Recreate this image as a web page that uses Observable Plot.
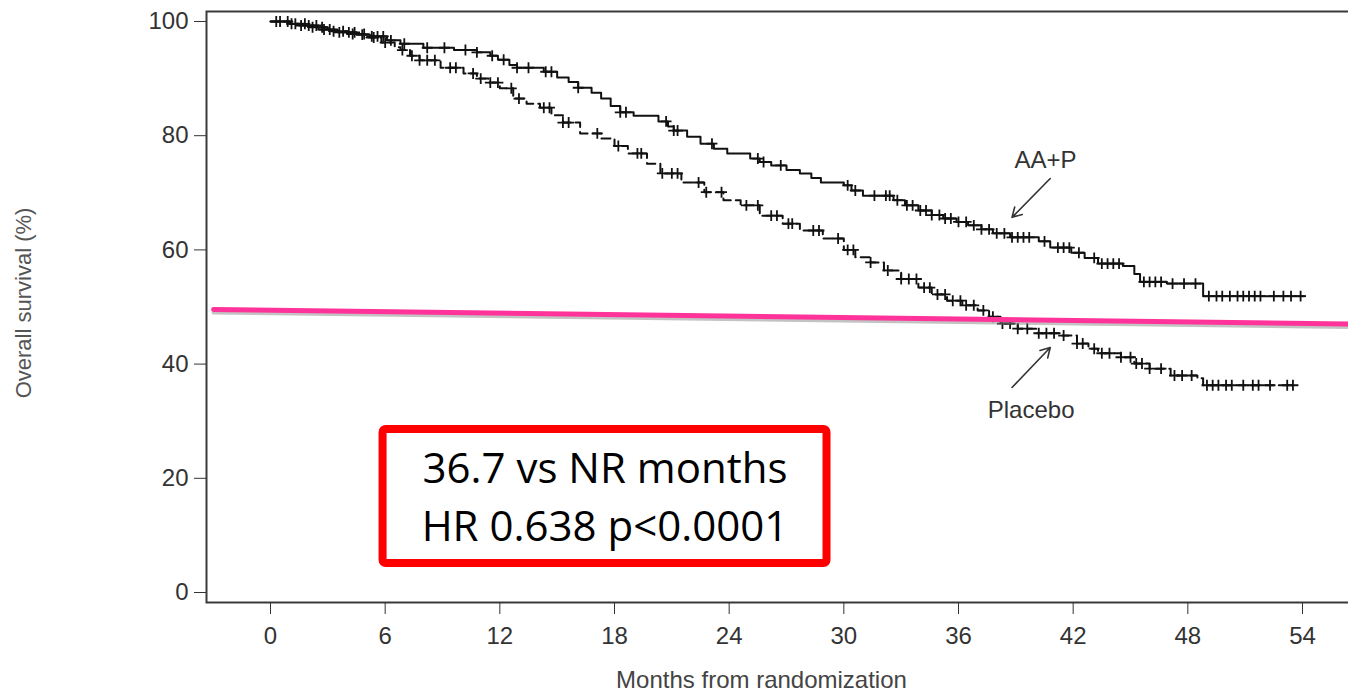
<!DOCTYPE html>
<html>
<head>
<meta charset="utf-8">
<script src="https://cdn.jsdelivr.net/npm/d3@7"></script>
<script src="https://cdn.jsdelivr.net/npm/@observablehq/plot@0.6"></script>
<style>
  html, body { margin: 0; padding: 0; background: #fff; overflow: hidden; }
  #chart svg { display: block; }
</style>
</head>
<body>
<div id="chart"></div>
<script>
// ---- tick labels ----
const xTicks = [0, 6, 12, 18, 24, 30, 36, 42, 48, 54];
const yTicks = [0, 20, 40, 60, 80, 100];
const xTitle = "Months from randomization";
const yTitle = "Overall survival (%)";

// ---- AA+P Kaplan–Meier curve (month, % alive) ----
const aaMonths = [0, 1.0, 1.5, 2.5, 3.5, 4.5, 5.2, 6.1, 6.8, 8.0, 9.6, 10.8, 11.5, 11.9, 12.5, 12.9, 14.3, 15.0, 15.6, 16.1, 16.8, 17.3, 17.8, 18.3, 19.0, 20.3, 20.8, 21.1, 21.8, 22.5, 23.2, 23.9, 25.1, 25.6, 26.2, 27.0, 27.7, 28.3, 28.8, 30.0, 30.4, 31.0, 32.6, 33.2, 33.9, 34.6, 35.2, 35.9, 36.5, 37.2, 37.8, 38.7, 40.2, 40.8, 41.9, 42.6, 43.3, 44.6, 45.2, 45.5, 46.9, 48.8, 54.1];
const aaSurvival = [100, 99.6, 99.3, 98.6, 98.1, 97.7, 97.4, 96.7, 96.1, 95.4, 95.0, 94.6, 94.0, 93.3, 92.4, 91.9, 91.2, 90.2, 89.4, 88.4, 87.5, 86.5, 85.2, 84.1, 83.5, 82.5, 81.6, 80.9, 79.8, 78.6, 77.7, 76.9, 76.0, 75.4, 74.8, 74.0, 73.4, 72.6, 71.8, 71.3, 70.4, 69.5, 68.7, 67.8, 66.9, 66.1, 65.5, 64.9, 64.3, 63.6, 62.9, 62.2, 61.5, 60.4, 59.5, 58.6, 57.6, 57.2, 55.8, 54.4, 54.1, 51.9, 51.9];
const aaCensorMonths = [0.3, 0.9, 1.3, 1.6, 2.0, 2.4, 2.8, 3.1, 3.6, 4.1, 4.4, 4.8, 5.3, 5.6, 5.9, 6.3, 7.0, 8.2, 9.1, 10.2, 10.8, 11.6, 12.2, 12.9, 13.5, 14.4, 14.7, 16.1, 18.3, 18.6, 20.7, 21.1, 21.3, 23.1, 25.5, 25.8, 26.7, 30.2, 30.6, 31.6, 32.2, 32.4, 32.8, 33.3, 33.6, 34.0, 34.3, 34.6, 35.0, 35.3, 35.6, 36.0, 36.4, 36.8, 37.2, 37.6, 38.0, 38.4, 38.8, 39.1, 39.4, 39.7, 40.5, 41.2, 41.5, 41.8, 42.3, 43.1, 43.5, 43.8, 44.1, 44.4, 45.7, 46.0, 46.3, 46.6, 47.2, 47.8, 48.4, 49.1, 49.5, 49.8, 50.2, 50.6, 50.9, 51.2, 51.5, 51.8, 52.5, 53.0, 53.4, 53.9];

// ---- Placebo Kaplan–Meier curve ----
const pbMonths = [0, 1.0, 2.0, 3.0, 4.0, 5.0, 5.8, 6.5, 6.8, 7.3, 7.8, 8.9, 10.1, 10.8, 11.4, 12.0, 12.7, 13.4, 14.1, 14.7, 15.3, 16.2, 17.3, 18.0, 18.7, 19.7, 20.4, 21.5, 22.7, 23.7, 24.6, 25.6, 26.8, 27.7, 28.9, 30.0, 30.6, 31.4, 32.1, 33.0, 33.9, 34.6, 35.4, 36.2, 37.0, 37.6, 38.2, 39.1, 40.1, 41.3, 42.2, 42.8, 43.3, 44.5, 45.2, 46.0, 47.1, 48.5, 48.8, 53.5];
const pbSurvival = [100, 99.6, 99.0, 98.3, 97.8, 97.2, 96.3, 95.5, 95.0, 94.0, 93.2, 91.9, 90.9, 90.0, 89.3, 88.3, 86.5, 85.6, 84.9, 83.6, 82.3, 80.4, 79.5, 78.2, 76.9, 75.1, 73.4, 71.8, 70.1, 68.7, 67.8, 66.0, 64.6, 63.4, 62.0, 60.0, 58.7, 57.8, 56.4, 54.9, 53.4, 52.2, 51.1, 50.3, 49.4, 48.3, 47.1, 46.2, 45.4, 45.0, 43.6, 42.7, 41.9, 41.2, 40.1, 39.2, 38.0, 37.5, 36.3, 36.3];
const pbCensorMonths = [0.5, 1.1, 1.8, 2.2, 2.7, 3.3, 3.8, 4.3, 4.9, 5.4, 6.0, 6.9, 7.4, 7.8, 8.2, 8.6, 9.4, 9.7, 10.6, 11.0, 11.5, 11.9, 12.6, 13.0, 14.3, 14.6, 15.3, 15.6, 17.1, 18.2, 19.2, 19.4, 20.5, 21.0, 21.3, 22.4, 22.8, 23.6, 24.9, 25.5, 26.2, 26.5, 27.1, 27.3, 28.4, 28.7, 29.7, 30.2, 30.5, 31.4, 32.3, 33.0, 33.4, 33.8, 34.2, 34.5, 34.9, 35.3, 35.7, 36.1, 36.4, 36.8, 37.3, 37.8, 38.3, 38.7, 39.1, 39.6, 40.2, 40.6, 41.0, 41.5, 42.2, 42.5, 43.1, 43.5, 43.9, 44.5, 45.0, 45.3, 45.6, 46.0, 46.6, 47.3, 47.7, 48.2, 49.0, 49.3, 49.6, 50.0, 50.3, 50.9, 51.4, 51.7, 52.3, 53.2, 53.5];

// ---- pink reference line (overlay) ----
const refMonths = [-2.98, 56.93];
const refSurvival = [49.56, 47.0];

// ---- arm labels with arrows ----
const armNames = ["AA+P", "Placebo"];
const armLabelMonth = [40.55, 39.8];
const armLabelSurvival = [75.7, 31.9];
const arrowFromMonth = [40.8, 38.8];
const arrowFromSurvival = [72.5, 35.9];
const arrowToMonth = [38.8, 40.8];
const arrowToSurvival = [65.7, 42.9];

// ---- result box ----
const boxMonths = [5.89, 29.12];
const boxSurvival = [5.08, 28.55];
const boxLines = ["36.7 vs NR months", "HR 0.638 p<0.0001"];
const boxLineSurvival = [19.26, 9.1];
const boxCenterMonth = 17.5;

// ---- build tables ----
const toRows = (ms, ss) => ms.map((m, i) => ({month: m, pct: ss[i]}));
const stepAt = (ms, ss, m) => { let v = ss[0]; for (let i = 0; i < ms.length; i++) { if (ms[i] <= m) v = ss[i]; else break; } return v; };
const aaRows = toRows(aaMonths, aaSurvival);
const pbRows = toRows(pbMonths, pbSurvival);
const aaCens = aaCensorMonths.map(m => ({month: m, pct: stepAt(aaMonths, aaSurvival, m)}));
const pbCens = pbCensorMonths.map(m => ({month: m, pct: stepAt(pbMonths, pbSurvival, m)}));
const refRows = toRows(refMonths, refSurvival);
const armRows = armNames.map((n, i) => ({name: n, month: armLabelMonth[i], pct: armLabelSurvival[i],
  x1: arrowFromMonth[i], y1: arrowFromSurvival[i], x2: arrowToMonth[i], y2: arrowToSurvival[i]}));
const boxRows = [{x1: boxMonths[0], x2: boxMonths[1], y1: boxSurvival[0], y2: boxSurvival[1]}];
const boxTextRows = boxLines.map((t, i) => ({t, month: boxCenterMonth, pct: boxLineSurvival[i]}));

const font = "'Liberation Sans', Arial, sans-serif";

const chart = Plot.plot({
  width: 1348,
  height: 691,
  marginLeft: 206,
  marginRight: -10,
  marginTop: 11,
  marginBottom: 89,
  style: {fontFamily: font, color: "#333", background: "#fff"},
  x: {domain: [-3.349, 56.93]},
  y: {domain: [-1.751, 101.75]},
  marks: [
    Plot.frame({stroke: "#3a3a3a", strokeWidth: 2}),
    Plot.axisX({ticks: xTicks, tickSize: 12, tickPadding: 12, fontSize: 24, label: null, stroke: "#333", fill: "#333"}),
    Plot.axisY({ticks: yTicks, tickSize: 12, tickPadding: 6, fontSize: 24, label: null, stroke: "#333", fill: "#333"}),
    Plot.text([xTitle], {frameAnchor: "bottom", dx: -21, dy: 85, lineAnchor: "bottom", fontSize: 24, fill: "#444"}),
    Plot.text([yTitle], {frameAnchor: "left", textAnchor: "middle", dx: -183, dy: -4, rotate: -90, fontSize: 22, fill: "#555"}),
    Plot.line(aaRows, {x: "month", y: "pct", curve: "step-after", stroke: "#111", strokeWidth: 2}),
    Plot.line(pbRows, {x: "month", y: "pct", curve: "step-after", stroke: "#111", strokeWidth: 2, strokeDasharray: "9,5"}),
    Plot.dot(aaCens, {x: "month", y: "pct", symbol: "plus", r: 3.6, stroke: "#111", strokeWidth: 1.8}),
    Plot.dot(pbCens, {x: "month", y: "pct", symbol: "plus", r: 3.6, stroke: "#111", strokeWidth: 1.8}),
    Plot.arrow(armRows, {x1: "x1", y1: "y1", x2: "x2", y2: "y2", stroke: "#333", strokeWidth: 1.6, headLength: 10}),
    Plot.text(armRows, {x: "month", y: "pct", text: "name", fontSize: 24, fill: "#333"}),
    Plot.line(refRows, {x: "month", y: "pct", stroke: "#888", strokeOpacity: 0.5, strokeWidth: 4, dy: 3}),
    Plot.line(refRows, {x: "month", y: "pct", stroke: "#ff3399", strokeWidth: 5}),
    Plot.rect(boxRows, {x1: "x1", x2: "x2", y1: "y1", y2: "y2", fill: "#fff", stroke: "#ff0000", strokeWidth: 8, rx: 3}),
    Plot.text(boxTextRows, {x: "month", y: "pct", text: "t", lineAnchor: "bottom", fontSize: 42, fontFamily: "'Open Sans', sans-serif", fill: "#000"})
  ]
});
document.getElementById("chart").appendChild(chart);
</script>
</body>
</html>
